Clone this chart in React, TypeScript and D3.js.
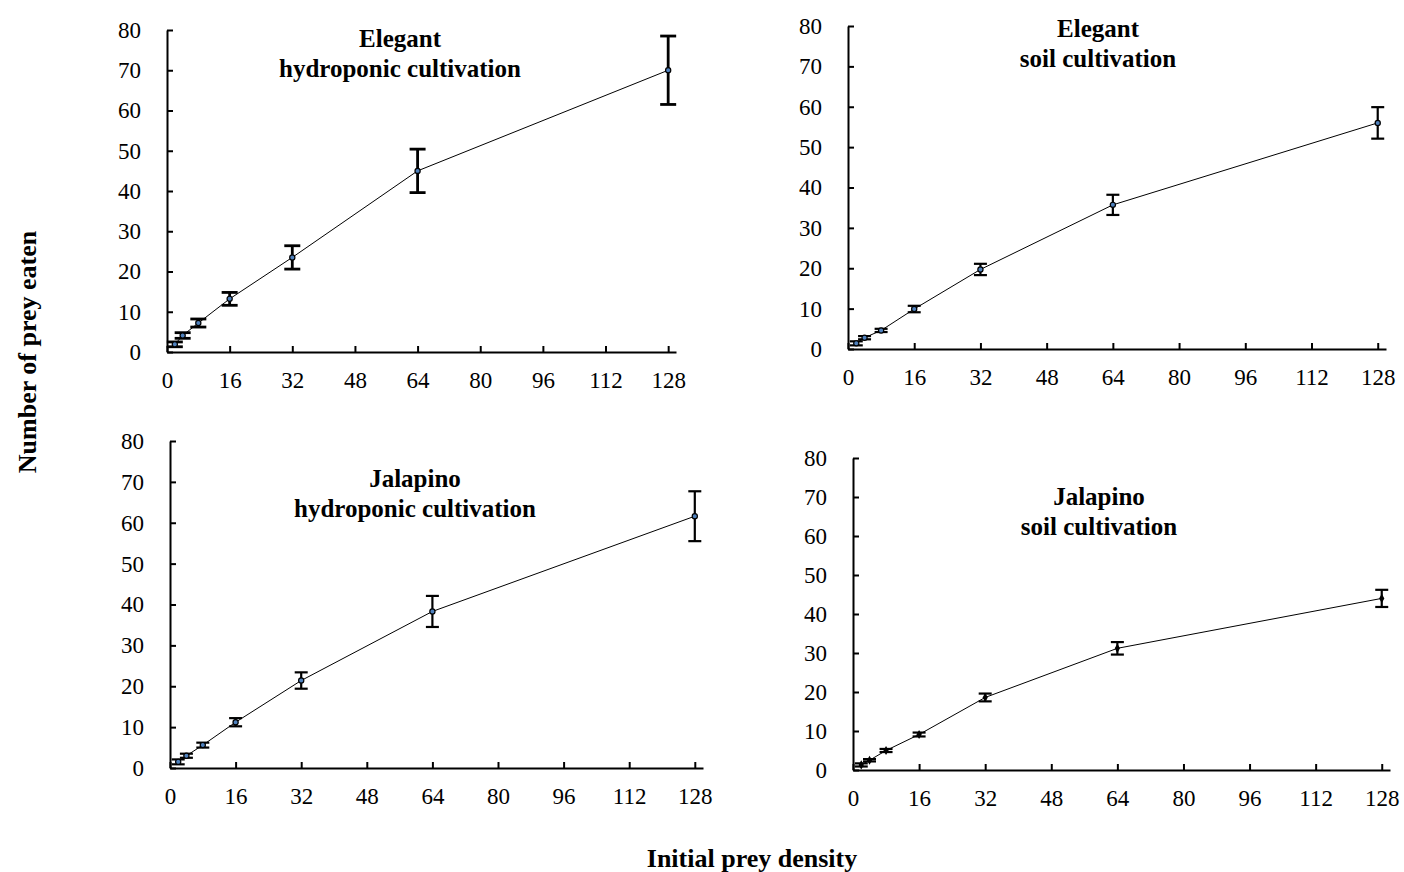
import React, { useRef, useEffect } from 'react';
import * as d3 from 'd3';

// initial prey densities offered
const densities = [2, 4, 8, 16, 32, 64, 128];
const xTicks = [0, 16, 32, 48, 64, 80, 96, 112, 128];
const yTicks = [0, 10, 20, 30, 40, 50, 60, 70, 80];

// mean number of prey eaten and error per density
const elegantHydroMean = [1.9, 4.1, 7.2, 13.2, 23.5, 45.0, 70.0];
const elegantHydroErr = [0.6, 0.7, 1.0, 1.6, 2.9, 5.4, 8.5];
const elegantSoilMean = [1.4, 2.8, 4.6, 9.9, 19.7, 35.7, 56.0];
const elegantSoilErr = [0.5, 0.4, 0.4, 0.8, 1.4, 2.5, 3.9];
const jalapinoHydroMean = [1.5, 3.0, 5.6, 11.2, 21.4, 38.3, 61.6];
const jalapinoHydroErr = [0.6, 0.5, 0.6, 1.0, 2.0, 3.8, 6.1];
const jalapinoSoilMean = [1.3, 2.5, 5.0, 9.1, 18.6, 31.2, 44.0];
const jalapinoSoilErr = [0.4, 0.3, 0.4, 0.5, 1.0, 1.6, 2.2];

const titles = [
  ['Elegant', 'hydroponic cultivation'],
  ['Elegant', 'soil cultivation'],
  ['Jalapino', 'hydroponic cultivation'],
  ['Jalapino', 'soil cultivation'],
];

const FONT = "'Liberation Serif', 'Times New Roman', serif";

const panels = [
  { mean: elegantHydroMean, err: elegantHydroErr, title: titles[0], left: 167, right: 676, top: 30, bottom: 352, tx: 400, ty: 38, barW: 2.8, cap: 8, marker: 'circle' },
  { mean: elegantSoilMean, err: elegantSoilErr, title: titles[1], left: 848, right: 1386, top: 26, bottom: 349, tx: 1098, ty: 28, barW: 2.2, cap: 6.5, marker: 'circle' },
  { mean: jalapinoHydroMean, err: jalapinoHydroErr, title: titles[2], left: 170, right: 703, top: 441, bottom: 768, tx: 415, ty: 478, barW: 2.2, cap: 6.5, marker: 'circle' },
  { mean: jalapinoSoilMean, err: jalapinoSoilErr, title: titles[3], left: 853, right: 1390, top: 458, bottom: 770, tx: 1099, ty: 496, barW: 2.2, cap: 6.5, marker: 'diamond' },
];

export default function App() {
  const svgRef = useRef<SVGSVGElement>(null);

  useEffect(() => {
    const svg = d3.select(svgRef.current);
    svg.selectAll('*').remove();

    panels.forEach((p) => {
      const x = d3.scaleLinear().domain([0, 130]).range([p.left, p.right]);
      const y = d3.scaleLinear().domain([0, 80]).range([p.bottom, p.top]);
      const g = svg.append('g');

      // x axis, ticks pointing inward
      g.append('g')
        .attr('transform', `translate(0,${p.bottom})`)
        .call(d3.axisBottom(x).tickValues(xTicks).tickSize(-6).tickSizeOuter(0).tickPadding(20))
        .call((a) => {
          a.attr('font-family', FONT).attr('font-size', 23);
          a.select('.domain').attr('stroke-width', 2);
          a.selectAll('.tick line').attr('stroke-width', 2);
          a.selectAll('.tick text').attr('fill', '#000');
        });

      // y axis
      g.append('g')
        .attr('transform', `translate(${p.left},0)`)
        .call(d3.axisLeft(y).tickValues(yTicks).tickSize(-6).tickSizeOuter(0).tickPadding(26))
        .call((a) => {
          a.attr('font-family', FONT).attr('font-size', 23);
          a.select('.domain').attr('stroke-width', 2);
          a.selectAll('.tick line').attr('stroke-width', 2);
          a.selectAll('.tick text').attr('fill', '#000');
        });

      const pts = densities.map((d, i) => ({ d, m: p.mean[i], e: p.err[i] }));

      const line = d3
        .line<{ d: number; m: number }>()
        .x((v) => x(v.d))
        .y((v) => y(v.m));

      g.append('path')
        .datum(pts)
        .attr('d', line)
        .attr('fill', 'none')
        .attr('stroke', '#000')
        .attr('stroke-width', 1);

      // error bars
      const bars = g.append('g').attr('stroke', '#000').attr('stroke-width', p.barW);
      pts.forEach((v) => {
        const cx = x(v.d);
        bars.append('line').attr('x1', cx).attr('x2', cx).attr('y1', y(v.m - v.e)).attr('y2', y(v.m + v.e));
        bars.append('line').attr('x1', cx - p.cap).attr('x2', cx + p.cap).attr('y1', y(v.m - v.e)).attr('y2', y(v.m - v.e));
        bars.append('line').attr('x1', cx - p.cap).attr('x2', cx + p.cap).attr('y1', y(v.m + v.e)).attr('y2', y(v.m + v.e));
      });

      // markers
      if (p.marker === 'diamond') {
        g.selectAll('path.mk')
          .data(pts)
          .join('path')
          .attr('class', 'mk')
          .attr('d', d3.symbol(d3.symbolDiamond, 24))
          .attr('transform', (v) => `translate(${x(v.d)},${y(v.m)})`)
          .attr('fill', '#000');
      } else {
        g.selectAll('circle.mk')
          .data(pts)
          .join('circle')
          .attr('class', 'mk')
          .attr('cx', (v) => x(v.d))
          .attr('cy', (v) => y(v.m))
          .attr('r', 2.6)
          .attr('fill', '#4f81bd')
          .attr('stroke', '#000')
          .attr('stroke-width', 1.2);
      }

      // panel title
      const t = g.append('text')
        .attr('text-anchor', 'middle')
        .attr('font-family', FONT)
        .attr('font-weight', 'bold')
        .attr('font-size', 25);
      t.append('tspan').attr('x', p.tx).attr('y', p.ty + 9).text(p.title[0]);
      t.append('tspan').attr('x', p.tx).attr('y', p.ty + 39).text(p.title[1]);
    });

    svg.append('text')
      .attr('transform', 'translate(36,352) rotate(-90)')
      .attr('text-anchor', 'middle')
      .attr('font-family', FONT)
      .attr('font-weight', 'bold')
      .attr('font-size', 26)
      .text('Number of prey eaten');

    svg.append('text')
      .attr('x', 752)
      .attr('y', 867)
      .attr('text-anchor', 'middle')
      .attr('font-family', FONT)
      .attr('font-weight', 'bold')
      .attr('font-size', 26)
      .text('Initial prey density');
  }, []);

  return (
    <div style={{ position: 'absolute', left: 0, top: 0 }}>
      <svg ref={svgRef} width={1404} height={872} style={{ display: 'block', background: '#fff' }} />
    </div>
  );
}
